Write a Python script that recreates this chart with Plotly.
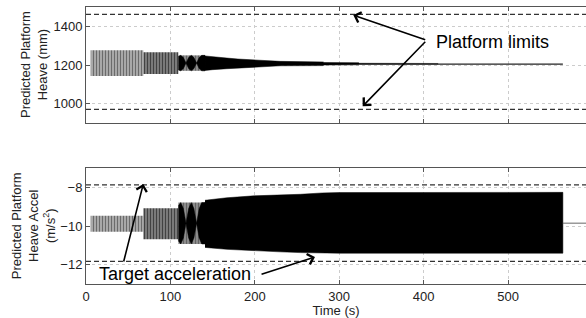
import plotly.graph_objects as go

# ---------------- data ----------------
# Oscillation segments (time boundaries, envelope per segment)
seg_t = [5.5, 67.9, 109.4, 141.0]
top_seg_hi = [1277, 1266, 1250]
top_seg_lo = [1143, 1153, 1170]
bot_seg_hi = [-9.45, -9.07, -8.77]
bot_seg_lo = [-10.29, -10.67, -10.92]

# Beating lenses (fraction of the segment's half amplitude)
beat_t = [109.4, 112.3, 115.4, 118.5, 121.6, 124.7, 127.85, 131.0, 134.1, 137.2, 141.0]
beat_frac = [0.85, 1.0, 0.71, 0.0, 0.71, 1.0, 0.71, 0.0, 0.71, 1.0, 1.0]

# Top panel: decaying black section, then a thin line
top_decay_t = [141, 150, 167, 180, 198, 215, 230, 281, 282, 323, 324, 417]
top_decay_hi = [1247, 1242, 1236, 1231, 1226, 1222, 1219, 1216, 1213, 1212, 1209, 1208]
top_decay_lo = [1172, 1176, 1181, 1186, 1190, 1193, 1196, 1197, 1200, 1201, 1203, 1203]
top_line_t = [417, 565]
top_line_v = [1205, 1205]

# Bottom panel: growing black section, then a thin line
bot_decay_t = [141, 167, 199, 230, 254, 280, 300, 565]
bot_decay_hi = [-8.65, -8.52, -8.42, -8.38, -8.34, -8.27, -8.25, -8.24]
bot_decay_lo = [-11.10, -11.20, -11.28, -11.33, -11.37, -11.40, -11.40, -11.40]
bot_line_t = [565, 592.4]
bot_line_v = [-9.84, -9.84]

# Limits
x_limits = [0, 592.4]
platform_limits = [1462, 971]
target_accel = [-7.85, -11.83]

x_ticks = [0, 100, 200, 300, 400, 500]
top_y_ticks = [1000, 1200, 1400]
bot_y_ticks = [-12, -10, -8]

# ---------------- figure ----------------
fig = go.Figure()

def band(t, hi, lo):
    return list(t) + list(t)[::-1], list(hi) + list(lo)[::-1]

seg_styles = [
    dict(bg="#a8a8a8", fg="#202020", sol=0.3),
    dict(bg="#858585", fg="#000000", sol=0.45),
    dict(bg="#8c8c8c", fg="#303030", sol=0.3),
]

for panel, his, los, xa, ya in [
    ("top", top_seg_hi, top_seg_lo, "x", "y"),
    ("bot", bot_seg_hi, bot_seg_lo, "x2", "y2"),
]:
    for i in range(3):
        bx, by = band([seg_t[i], seg_t[i + 1]], [his[i]] * 2, [los[i]] * 2)
        st = seg_styles[i]
        fig.add_trace(go.Scatter(
            x=bx, y=by, fill="toself", mode="lines", line=dict(width=0),
            fillcolor=st["bg"],
            fillpattern=dict(shape="|", fgcolor=st["fg"], bgcolor=st["bg"],
                             size=3, solidity=st["sol"]),
            xaxis=xa, yaxis=ya, hoverinfo="skip", showlegend=False))
    # beating lenses
    c = (his[2] + los[2]) / 2
    h = (his[2] - los[2]) / 2
    lx, ly = band(beat_t, [c + f * h for f in beat_frac], [c - f * h for f in beat_frac])
    fig.add_trace(go.Scatter(
        x=lx, y=ly, fill="toself", mode="lines", line=dict(width=0.5, color="black"),
        fillcolor="black", xaxis=xa, yaxis=ya, hoverinfo="skip", showlegend=False))

dx, dy = band(top_decay_t, top_decay_hi, top_decay_lo)
fig.add_trace(go.Scatter(x=dx, y=dy, fill="toself", mode="lines",
                         line=dict(width=0.5, color="black"), fillcolor="black",
                         xaxis="x", yaxis="y", hoverinfo="skip", showlegend=False))
fig.add_trace(go.Scatter(x=top_line_t, y=top_line_v, mode="lines",
                         line=dict(width=1.3, color="#222"),
                         xaxis="x", yaxis="y", hoverinfo="skip", showlegend=False))

dx, dy = band(bot_decay_t, bot_decay_hi, bot_decay_lo)
fig.add_trace(go.Scatter(x=dx, y=dy, fill="toself", mode="lines",
                         line=dict(width=0.5, color="black"), fillcolor="black",
                         xaxis="x2", yaxis="y2", hoverinfo="skip", showlegend=False))
fig.add_trace(go.Scatter(x=bot_line_t, y=bot_line_v, mode="lines",
                         line=dict(width=1, color="#666"),
                         xaxis="x2", yaxis="y2", hoverinfo="skip", showlegend=False))

for v in platform_limits:
    fig.add_trace(go.Scatter(x=x_limits, y=[v, v], mode="lines",
                             line=dict(width=1.2, color="#333", dash="5px,3px"),
                             xaxis="x", yaxis="y", hoverinfo="skip", showlegend=False))
for v in target_accel:
    fig.add_trace(go.Scatter(x=x_limits, y=[v, v], mode="lines",
                             line=dict(width=1.2, color="#333", dash="5px,3px"),
                             xaxis="x2", yaxis="y2", hoverinfo="skip", showlegend=False))

FONT = "Liberation Sans, Arial, sans-serif"
axis_common = dict(
    showline=True, linecolor="#555", linewidth=1,
    ticks="inside", ticklen=4, tickcolor="#555",
    showgrid=True, gridcolor="#cccccc", griddash="dot", gridwidth=1,
    zeroline=False, tickfont=dict(family=FONT, size=13, color="#222"),
)

fig.update_layout(
    width=586, height=318,
    margin=dict(l=86, r=0, t=7, b=34),
    paper_bgcolor="white", plot_bgcolor="white",
    showlegend=False,
    xaxis=dict(domain=[0, 1], anchor="y", range=x_limits, tickvals=x_ticks,
               showticklabels=False, mirror="ticks", **axis_common),
    yaxis=dict(domain=[0.581, 1], anchor="x", range=[900, 1500],
               tickvals=top_y_ticks, **axis_common),
    xaxis2=dict(domain=[0, 1], anchor="y2", range=x_limits, tickvals=x_ticks,
                mirror="ticks",
                title=dict(text="Time (s)", font=dict(family=FONT, size=13, color="#222"),
                           standoff=0),
                **axis_common),
    yaxis2=dict(domain=[0, 0.417], anchor="x2", range=[-13, -7],
                tickvals=bot_y_ticks, **axis_common),
)

ann_font = dict(family=FONT, size=13, color="#222")
fig.add_annotation(text="Predicted Platform<br>Heave (mm)", xref="paper", yref="y domain",
                   x=-0.104, y=0.5, textangle=-90, showarrow=False, font=ann_font,
                   xanchor="center", yanchor="middle")
fig.add_annotation(text="Predicted Platform<br>Heave Accel<br>(m/s<sup>2</sup>)",
                   xref="paper", yref="y2 domain",
                   x=-0.106, y=0.5, textangle=-90, showarrow=False, font=ann_font,
                   xanchor="center", yanchor="middle")

big = dict(family=FONT, size=18, color="black")
fig.add_annotation(text="Platform limits", x=412, y=1319, xref="x", yref="y",
                   showarrow=False, xanchor="left", yanchor="middle", font=big)
fig.add_annotation(text="Target acceleration", x=105.5, y=-12.46, xref="x2", yref="y2",
                   showarrow=False, xanchor="center", yanchor="middle", font=big)

arrows = [
    ("x", "y", 316.7, 1458, 403.7, 1328),
    ("x", "y", 327.8, 987, 403.7, 1328),
    ("x2", "y2", 67.9, -7.8, 44.2, -11.91),
    ("x2", "y2", 271.3, -11.6, 206.2, -12.52),
]
for xr, yr, x, y, ax, ay in arrows:
    fig.add_annotation(x=x, y=y, ax=ax, ay=ay, xref=xr, yref=yr, axref=xr, ayref=yr,
                       text="", showarrow=True, arrowhead=4, arrowsize=1.3,
                       arrowwidth=1.6, arrowcolor="black")

fig.write_html("out.html", config={"displayModeBar": False},
               post_script="document.body.style.margin='0';document.body.style.padding='0';")
